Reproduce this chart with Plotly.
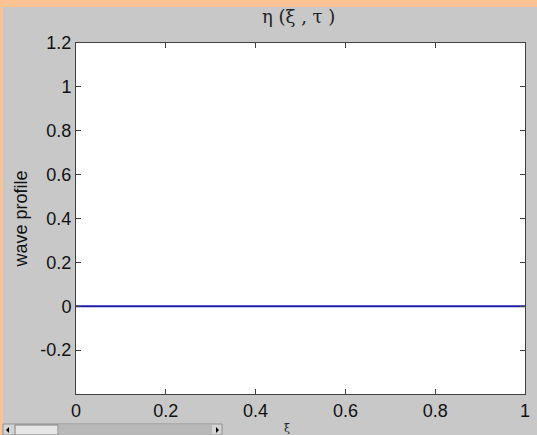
import plotly.graph_objects as go

xi = [0.0, 0.25, 0.5, 0.75, 1.0]
eta = [0.0, 0.0, 0.0, 0.0, 0.0]
y_ticks = [-0.2, 0, 0.2, 0.4, 0.6, 0.8, 1, 1.2]
y_labels = ["-0.2", "0", "0.2", "0.4", "0.6", "0.8", "1", "1.2"]
x_ticks = [0, 0.2, 0.4, 0.6, 0.8, 1]
x_labels = ["0", "0.2", "0.4", "0.6", "0.8", "1"]

W, H = 537, 435
L, R, T, B = 76, 12, 43, 41

fig = go.Figure()
fig.add_trace(go.Scatter(x=xi, y=eta, mode="lines",
                         line=dict(color="#1c1ca8", width=2), showlegend=False))

axis_common = dict(showgrid=False, zeroline=False, showline=True, mirror="ticks",
                   linecolor="#404040", linewidth=1, ticks="inside", ticklen=5,
                   tickcolor="#404040",
                   tickfont=dict(family="Liberation Sans, Arial", size=18, color="#111111"))

fig.update_layout(
    width=W, height=H,
    margin=dict(l=L, r=R, t=T, b=B, autoexpand=False),
    paper_bgcolor="#c8c8c8",
    plot_bgcolor="#ffffff",
    xaxis=dict(range=[0, 1], tickvals=x_ticks, ticktext=x_labels, **axis_common),
    yaxis=dict(range=[-0.4, 1.2], tickvals=y_ticks, ticktext=y_labels,
               title=dict(text="wave profile",
                          font=dict(family="Liberation Sans, Arial", size=18, color="#111111"),
                          standoff=8),
               **axis_common),
)

pw = W - L - R
ph = H - T - B


def fx(px):
    return (px - L) / pw


def fy(py):
    return (H - B - py) / ph


shapes = []
shapes.append(dict(type="rect", xref="paper", yref="paper", x0=fx(0), x1=fx(W), y0=fy(7), y1=fy(0),
                   fillcolor="#fbc393", line=dict(width=0)))
shapes.append(dict(type="rect", xref="paper", yref="paper", x0=fx(0), x1=fx(3), y0=fy(H), y1=fy(7),
                   fillcolor="#fbc393", line=dict(width=0)))
# scrollbar
shapes.append(dict(type="rect", xref="paper", yref="paper", x0=fx(3), x1=fx(222), y0=fy(435), y1=fy(424),
                   fillcolor="#d4d4d4", line=dict(width=1, color="#909090")))
shapes.append(dict(type="rect", xref="paper", yref="paper", x0=fx(15), x1=fx(58), y0=fy(435), y1=fy(425),
                   fillcolor="#e6e6e6", line=dict(width=1, color="#808080")))
shapes.append(dict(type="rect", xref="paper", yref="paper", x0=fx(59), x1=fx(212), y0=fy(435), y1=fy(425),
                   fillcolor="#b8b8b8", line=dict(width=0)))
shapes.append(dict(type="path", xref="paper", yref="paper",
                   path=f"M {fx(9)} {fy(427)} L {fx(6)} {fy(430)} L {fx(9)} {fy(433)} Z",
                   fillcolor="#000000", line=dict(width=0)))
shapes.append(dict(type="path", xref="paper", yref="paper",
                   path=f"M {fx(216)} {fy(427)} L {fx(219)} {fy(430)} L {fx(216)} {fy(433)} Z",
                   fillcolor="#000000", line=dict(width=0)))
fig.update_layout(shapes=shapes)

fig.add_annotation(text="η (ξ , τ )", xref="paper", yref="paper", x=fx(298), y=fy(17),
                   xanchor="center", yanchor="middle",
                   showarrow=False, font=dict(family="DejaVu Serif, serif", size=18, color="#222222"))
fig.add_annotation(text="ξ", xref="paper", yref="paper", x=fx(287), y=fy(428),
                   xanchor="center", yanchor="middle",
                   showarrow=False, font=dict(family="DejaVu Serif, serif", size=11, color="#222222"))

fig.write_html("out.html")
